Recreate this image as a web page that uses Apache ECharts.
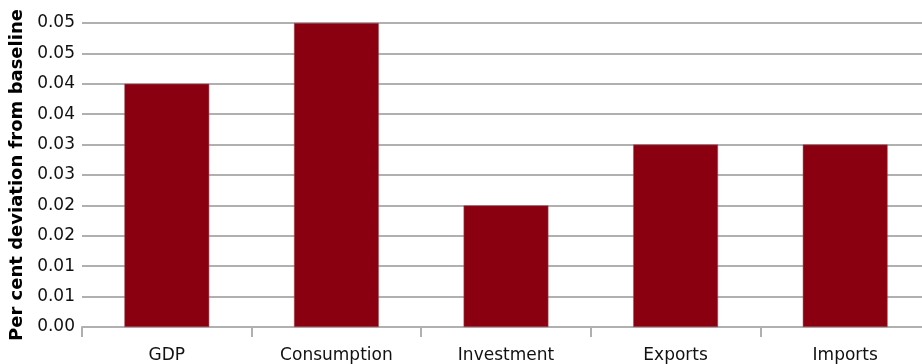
<!DOCTYPE html>
<html>
<head>
<meta charset="utf-8">
<script src="https://cdn.jsdelivr.net/npm/echarts@6/dist/echarts.min.js"></script>
<style>
  html, body { margin: 0; padding: 0; background: #fff; }
  #chart { width: 922px; height: 364px; }
</style>
</head>
<body>
<div id="chart"></div>
<script>
// categories and values
var categories = ["GDP", "Consumption", "Investment", "Exports", "Imports"];
var deviation = [0.04, 0.05, 0.02, 0.03, 0.03];
var yTitle = "Per cent deviation from baseline";

var chart = echarts.init(document.getElementById("chart"));

var option = {
    animation: false,
    textStyle: { fontFamily: "DejaVu Sans" },
    grid: {
        left: 82,
        right: -8,
        top: 23,
        bottom: 37,
        outerBoundsMode: "none",
        containLabel: false
    },
    xAxis: {
        type: "category",
        data: categories,
        boundaryGap: true,
        axisLine: { lineStyle: { color: "#b0b0b0", width: 2 } },
        axisTick: { show: true, length: 10, lineStyle: { color: "#b0b0b0", width: 2 } },
        axisLabel: { color: "#111", fontSize: 17, margin: 20 }
    },
    yAxis: {
        type: "value",
        min: 0,
        max: 0.05,
        interval: 0.005,
        name: yTitle,
        nameLocation: "middle",
        nameGap: 56,
        nameTextStyle: { color: "#000", fontSize: 18, fontWeight: "bold" },
        axisLine: { show: false },
        axisTick: { show: false },
        axisLabel: {
            color: "#111",
            fontSize: 17,
            margin: 7,
            formatter: function (v) {
                // round half up to two decimals like the source
                return (Math.round(v * 100 + 1e-9) / 100).toFixed(2);
            }
        },
        splitLine: { lineStyle: { color: "#b0b0b0", width: 2 } }
    },
    series: [
        {
            type: "bar",
            data: deviation,
            barWidth: "50%",
            itemStyle: { color: "#8b0010", borderColor: "#a05058", borderWidth: 0.5 }
        }
    ]
};
chart.setOption(option);
</script>
</body>
</html>
